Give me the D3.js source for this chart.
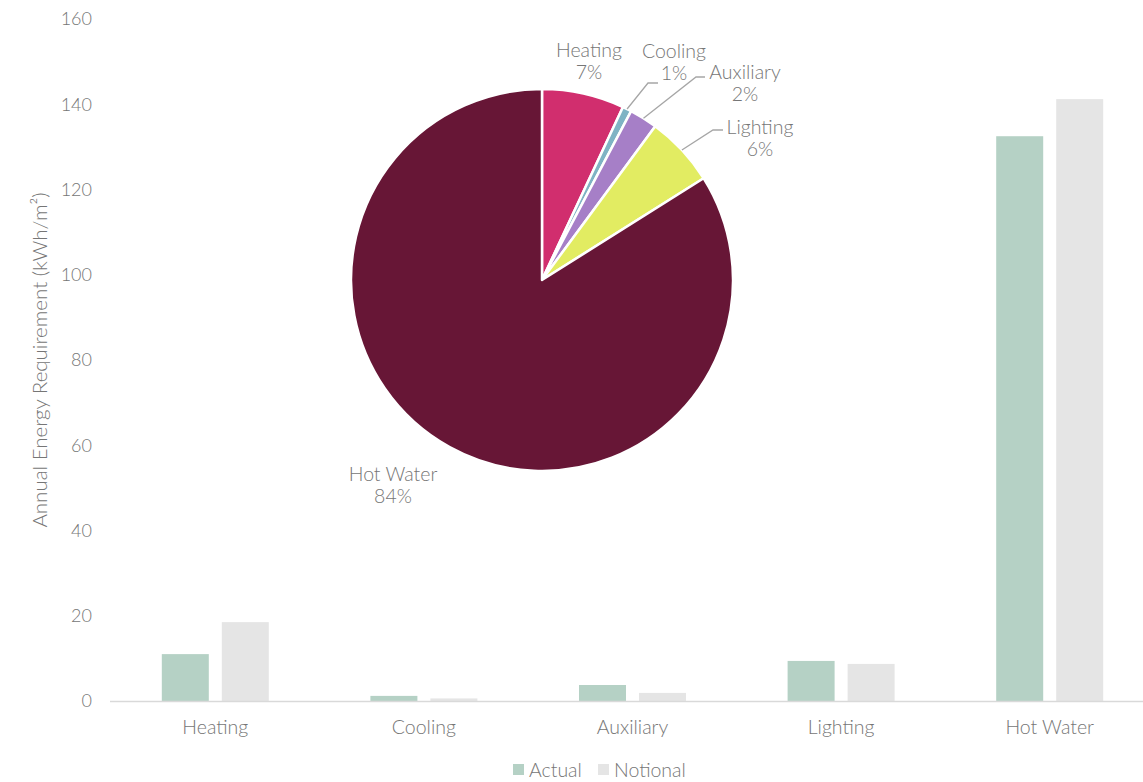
<!DOCTYPE html>
<html lang="en">
<head>
<meta charset="UTF-8">
<title>Annual Energy Requirement</title>
<script src="https://d3js.org/d3.v7.min.js"></script>
<style>
  body { margin: 0; background: #fff; }
  text { font-family: Lato, "Open Sans", sans-serif; font-weight: 300; fill: #767676; }
</style>
</head>
<body>
<svg width="1143" height="782"></svg>
<script>
  // bar chart data
  const categories = ["Heating", "Cooling", "Auxiliary", "Lighting", "Hot Water"];
  const seriesNames = ["Actual", "Notional"];
  const actual = [11.0, 1.2, 3.75, 9.4, 132.5];
  const notional = [18.5, 0.6, 1.9, 8.7, 141.2];
  const yTicks = [0, 20, 40, 60, 80, 100, 120, 140, 160];

  // pie (share of actual)
  const pieColors = ["#d12e6e", "#7fb3c4", "#a67fc7", "#e2ec62", "#671636"];
  const barColors = ["#b5d1c5", "#e5e5e5"];

  const svg = d3.select("svg");

  const x = d3.scaleBand().domain(categories).range([111, 1154]);
  const y = d3.scaleLinear().domain([0, 160]).range([701, 19]);

  // y axis labels
  svg.append("g")
    .selectAll("text")
    .data(yTicks)
    .join("text")
      .attr("x", 92)
      .attr("y", d => y(d))
      .attr("dy", "0.35em")
      .attr("text-anchor", "end")
      .style("font-size", "18px")
      .text(d => d);

  svg.append("text")
    .attr("transform", "translate(47,360) rotate(-90)")
    .attr("text-anchor", "middle")
    .style("font-size", "20.5px")
    .text("Annual Energy Requirement (kWh/m²)");

  // bars
  const barW = 47, gap = 13;
  const groups = svg.append("g")
    .selectAll("g")
    .data(categories)
    .join("g")
      .attr("transform", d => `translate(${x(d) + x.bandwidth() / 2},0)`);

  groups.append("rect")
    .attr("x", -barW - gap / 2)
    .attr("width", barW)
    .attr("y", (d, i) => y(actual[i]))
    .attr("height", (d, i) => y(0) - y(actual[i]))
    .attr("fill", barColors[0]);

  groups.append("rect")
    .attr("x", gap / 2)
    .attr("width", barW)
    .attr("y", (d, i) => y(notional[i]))
    .attr("height", (d, i) => y(0) - y(notional[i]))
    .attr("fill", barColors[1]);

  groups.append("text")
    .attr("y", 727)
    .attr("dy", "0.35em")
    .attr("text-anchor", "middle")
    .style("font-size", "19.5px")
    .text(d => d);

  // baseline
  svg.append("line")
    .attr("x1", 110).attr("x2", 1143)
    .attr("y1", y(0) + 0.5).attr("y2", y(0) + 0.5)
    .attr("stroke", "#d9d9d9")
    .attr("stroke-width", 1.5);

  // legend
  const legend = svg.append("g").attr("transform", "translate(513,770)");
  const legendX = [0, 85];
  seriesNames.forEach((name, i) => {
    legend.append("rect")
      .attr("x", legendX[i]).attr("y", -6)
      .attr("width", 11).attr("height", 11)
      .attr("fill", barColors[i]);
    legend.append("text")
      .attr("x", legendX[i] + 16)
      .attr("dy", "0.35em")
      .style("font-size", "19.5px")
      .text(name);
  });

  // pie
  const cx = 542, cy = 280, r = 191;
  const total = d3.sum(actual);
  const pie = d3.pie().sort(null).value(d => d)(actual);
  const arc = d3.arc().innerRadius(0).outerRadius(r);
  const pg = svg.append("g").attr("transform", `translate(${cx},${cy})`);

  pg.selectAll("path")
    .data(pie)
    .join("path")
      .attr("d", arc)
      .attr("fill", (d, i) => pieColors[i])
      .attr("stroke", "#fff")
      .attr("stroke-width", 2.5)
      .attr("stroke-linejoin", "round");

  // label offsets relative to pie centre
  const labelPos = [[47, -230], [132, -229], [203, -208], [218, -153], [-149, 194]];
  // leader line elbows (null = no leader)
  const elbows = [null, [[106, -197], [116, -197]], [[154, -203], [163, -203]], [[171, -150], [181, -150]], null];

  pie.forEach((d, i) => {
    if (elbows[i]) {
      const a = (d.startAngle + d.endAngle) / 2;
      const p0 = [Math.sin(a) * r, -Math.cos(a) * r];
      pg.append("path")
        .attr("d", d3.line()([p0, ...elbows[i]]))
        .attr("fill", "none")
        .attr("stroke", "#a6a6a6")
        .attr("stroke-width", 1.3);
    }
    const t = pg.append("text")
      .attr("transform", `translate(${labelPos[i][0]},${labelPos[i][1]})`)
      .attr("text-anchor", "middle")
      .style("font-size", "19.5px");
    t.append("tspan").attr("x", 0).attr("dy", "0.35em").text(categories[i]);
    t.append("tspan").attr("x", 0).attr("dy", "1.15em")
      .text(Math.round(d.value / total * 100) + "%");
  });
</script>
</body>
</html>
